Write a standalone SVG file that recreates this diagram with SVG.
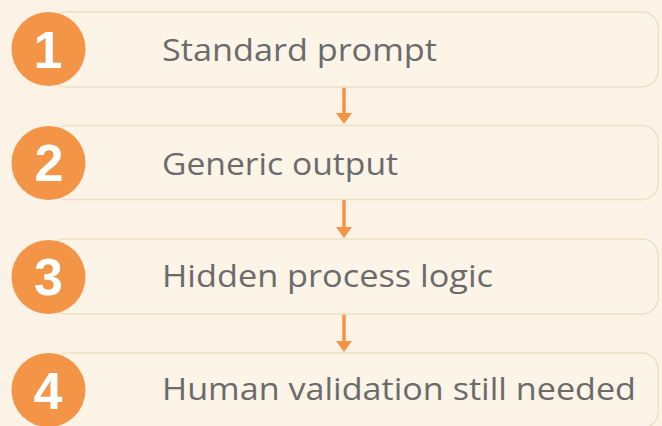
<svg xmlns="http://www.w3.org/2000/svg" width="662" height="426" viewBox="0 0 662 426">
<style>
.box{fill:#FDF4E8;stroke:#EEDFC5;stroke-width:1.5}
.circ{fill:#F39447}
.num{font-family:"Liberation Sans",Arial,sans-serif;font-weight:bold;font-size:52px;fill:#FFFFFF;text-anchor:middle}
.lbl{font-family:"Open Sans","Liberation Sans",sans-serif;font-size:31px;fill:#6B6B6B}
.shaft{stroke:#F39447;stroke-width:3.5;fill:none}
.head{fill:#F39447}
</style>
<rect width="662" height="426" fill="#FCF2E6"/>
<g id="connectors">
<line class="shaft" x1="344" y1="87" x2="344" y2="115"/>
<polygon class="head" points="336,113 352,113 344,124"/>
<line class="shaft" x1="344" y1="200" x2="344" y2="229"/>
<polygon class="head" points="336,227 352,227 344,238"/>
<line class="shaft" x1="344" y1="314" x2="344" y2="343"/>
<polygon class="head" points="336,341 352,341 344,352"/>
</g>
<g id="node1">
<rect class="box" x="50" y="12" width="608" height="75" rx="16"/>
<circle class="circ" cx="48.5" cy="49" r="37"/>
<text class="num" x="48" y="68">1</text>
<text class="lbl" x="162" y="61" textLength="275" lengthAdjust="spacingAndGlyphs">Standard prompt</text>
</g>
<g id="node2">
<rect class="box" x="50" y="125.5" width="608" height="74" rx="16"/>
<circle class="circ" cx="48.5" cy="163" r="37"/>
<text class="num" x="49" y="181">2</text>
<text class="lbl" x="162" y="175" textLength="236" lengthAdjust="spacingAndGlyphs">Generic output</text>
</g>
<g id="node3">
<rect class="box" x="50" y="239" width="608" height="75" rx="16"/>
<circle class="circ" cx="48.5" cy="277" r="37"/>
<text class="num" x="48.5" y="295">3</text>
<text class="lbl" x="162" y="287" textLength="331" lengthAdjust="spacingAndGlyphs">Hidden process logic</text>
</g>
<g id="node4">
<rect class="box" x="50" y="353" width="608" height="75" rx="16"/>
<circle class="circ" cx="48.5" cy="390" r="37"/>
<text class="num" x="48" y="409">4</text>
<text class="lbl" x="162" y="400" textLength="474" lengthAdjust="spacingAndGlyphs">Human validation still needed</text>
</g>
</svg>
